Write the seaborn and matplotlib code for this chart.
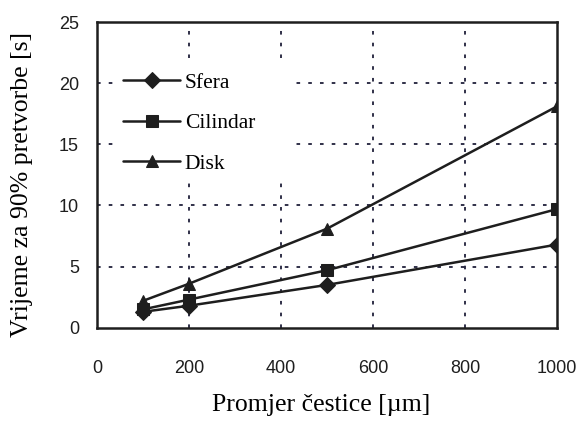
import matplotlib
matplotlib.use("Agg")
import matplotlib.pyplot as plt
from matplotlib.patches import Rectangle
import seaborn as sns
import pandas as pd

# Particle diameters [µm] and time to 90 % transformation [s]
diameters = [100, 200, 500, 1000]
sfera = [1.3, 1.8, 3.5, 6.8]
cilindar = [1.5, 2.3, 4.7, 9.7]
disk = [2.2, 3.6, 8.1, 18.1]

shapes = ["Sfera", "Cilindar", "Disk"]
x_ticks = [0, 200, 400, 600, 800, 1000]
y_ticks = [0, 5, 10, 15, 20, 25]

df = pd.DataFrame({
    "d": diameters * 3,
    "t": sfera + cilindar + disk,
    "oblik": [s for s in shapes for _ in diameters],
})

sns.set_theme(style="white")
serif = ["Liberation Serif", "DejaVu Serif"]
sans = ["Liberation Sans", "DejaVu Sans"]

fig = plt.figure(figsize=(5.85, 4.21), dpi=100)
ax = fig.add_axes([0.166, 0.2216, 0.786, 0.726])

ink = "#1e1e1e"
sns.lineplot(
    data=df, x="d", y="t", hue="oblik", style="oblik",
    hue_order=shapes, style_order=shapes,
    palette=[ink, ink, ink],
    markers={"Sfera": "D", "Cilindar": "s", "Disk": "^"},
    dashes=False, linewidth=1.8, markersize=8,
    markeredgecolor=ink, ax=ax, zorder=3,
)

ax.set_xlim(0, 1000)
ax.set_ylim(0, 25)
ax.set_xticks(x_ticks)
ax.set_yticks(y_ticks)
ax.set_xticklabels([str(v) for v in x_ticks], family=sans, fontsize=13, color=ink)
ax.set_yticklabels([str(v) for v in y_ticks], family=sans, fontsize=13, color=ink)
ax.tick_params(axis="both", direction="inout", length=8, width=1.3, color=ink)
ax.tick_params(axis="x", pad=19)
ax.tick_params(axis="y", pad=9)

# dotted grid at interior ticks only
for xv in x_ticks[1:-1]:
    ax.axvline(xv, color="#20203a", lw=1.3, ls=(0, (2, 4.5)), zorder=1)
for yv in y_ticks[1:-1]:
    ax.axhline(yv, color="#20203a", lw=1.3, ls=(0, (2, 4.5)), zorder=1)

# white panel behind the legend, masking the grid
ax.add_patch(Rectangle((0.035, 0.493), 0.389, 0.389, transform=ax.transAxes,
                       facecolor="white", edgecolor="none", zorder=2))

for sp in ax.spines.values():
    sp.set_color(ink)
    sp.set_linewidth(1.8)
    sp.set_visible(True)

ax.set_xlabel("Promjer čestice [µm]", family=serif, fontsize=18.5, color="black")
ax.set_ylabel("Vrijeme za 90% pretvorbe [s]", family=serif, fontsize=18.5, color="black")
ax.xaxis.set_label_coords(0.487, -0.253)
ax.xaxis.label.set_va("center")
ax.yaxis.set_label_coords(-0.163, 0.47)
ax.yaxis.label.set_va("center")

leg = ax.legend(
    title=None, loc="upper left", bbox_to_anchor=(0.035, 0.868),
    borderaxespad=0, frameon=False, prop={"family": serif, "size": 15.5},
    handlelength=2.65, handletextpad=0.2, labelspacing=0.95,
    borderpad=0.47, markerscale=1.0,
)
leg.set_zorder(5)
for t in leg.get_texts():
    t.set_color("black")

fig.savefig("out.png", dpi=100, facecolor="white")
